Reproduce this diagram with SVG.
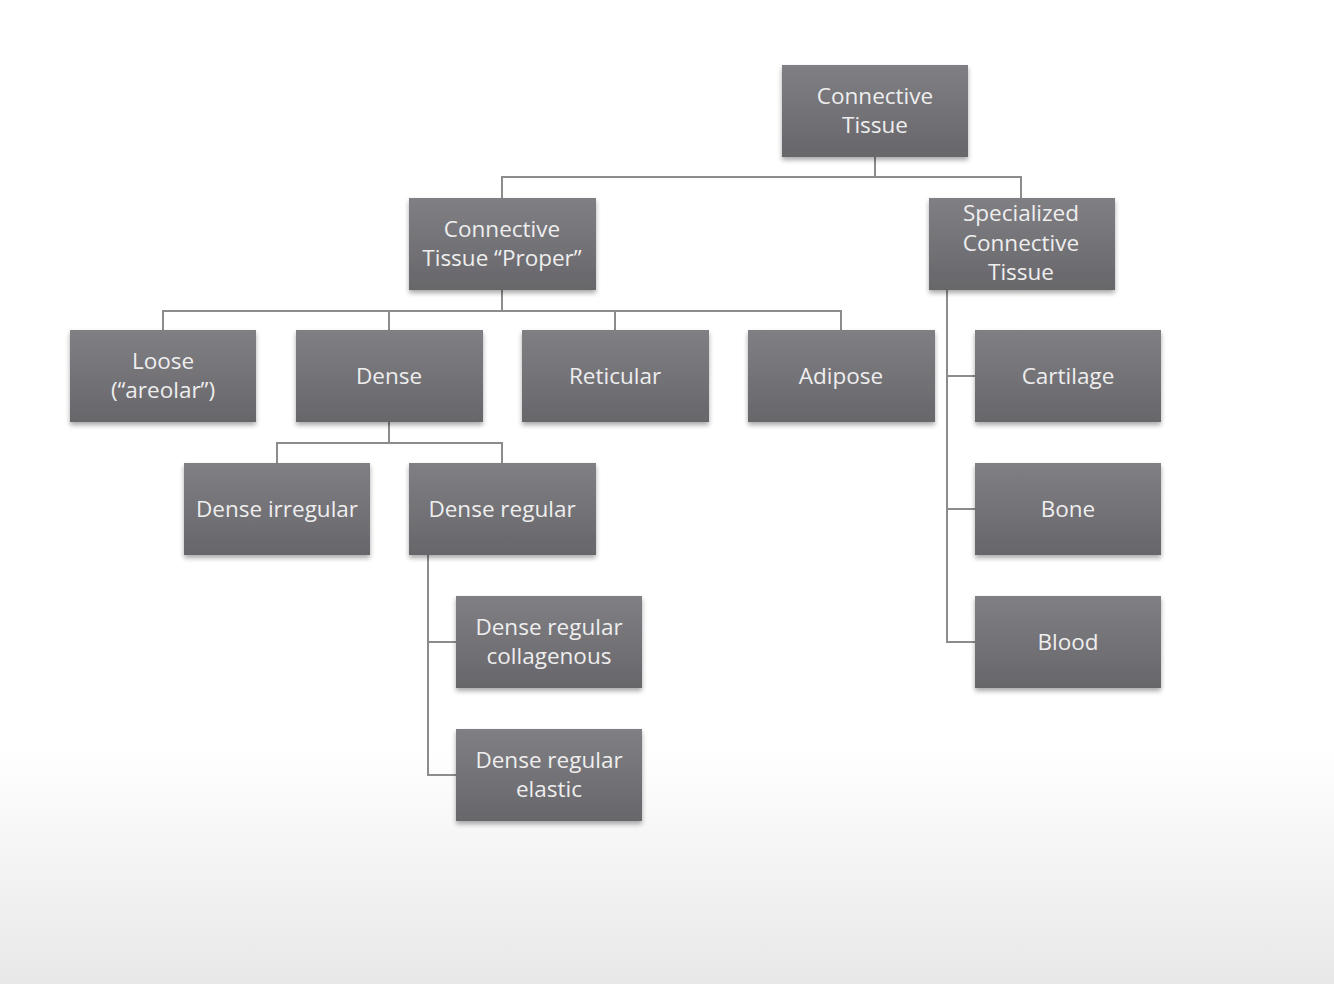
<svg xmlns="http://www.w3.org/2000/svg" width="1334" height="984" viewBox="0 0 1334 984">
<defs>
<linearGradient id="bg" x1="0" y1="0" x2="0" y2="1">
<stop offset="0" stop-color="#ffffff"/>
<stop offset="0.76" stop-color="#ffffff"/>
<stop offset="1" stop-color="#e8e8e8"/>
</linearGradient>
<linearGradient id="box" x1="0" y1="0" x2="0" y2="1">
<stop offset="0" stop-color="#807f84"/>
<stop offset="1" stop-color="#67666a"/>
</linearGradient>
<filter id="sh" x="-10%" y="-10%" width="120%" height="130%">
<feGaussianBlur in="SourceAlpha" stdDeviation="2.5"/>
<feOffset dx="0" dy="3" result="b"/>
<feComponentTransfer><feFuncA type="linear" slope="0.35"/></feComponentTransfer>
<feMerge><feMergeNode/><feMergeNode in="SourceGraphic"/></feMerge>
</filter>
</defs>
<style>
.n rect{fill:url(#box);filter:url(#sh)}
.n text{font-family:"Open Sans",Lato,sans-serif;font-size:22.5px;fill:#eeeeee;text-anchor:middle}
.c path{fill:none;stroke:#8c8c8c;stroke-width:2}
</style>
<rect x="0" y="0" width="1334" height="984" fill="url(#bg)"/>
<g class="c" id="connectors">
<path d="M875 157V177M502 198V177H1021V198"/>
<path d="M502 290V311M163 330V311H841V330M389 311V330M615 311V330"/>
<path d="M947 290V642H975M947 376H975M947 509H975"/>
<path d="M389 422V443M277 463V443H502V463"/>
<path d="M428 555V775H456M428 642H456"/>
</g>
<g class="n" id="connective-tissue"><rect x="782" y="65" width="186" height="92"/><text x="875" y="104">Connective</text><text x="875" y="133">Tissue</text></g>
<g class="n" id="ct-proper"><rect x="409" y="198" width="187" height="92"/><text x="502" y="237">Connective</text><text x="502" y="266">Tissue “Proper”</text></g>
<g class="n" id="specialized"><rect x="929" y="198" width="186" height="92"/><text x="1021" y="221">Specialized</text><text x="1021" y="251">Connective</text><text x="1021" y="280">Tissue</text></g>
<g class="n" id="loose"><rect x="70" y="330" width="186" height="92"/><text x="163" y="369">Loose</text><text x="163" y="398">(“areolar”)</text></g>
<g class="n" id="dense"><rect x="296" y="330" width="187" height="92"/><text x="389" y="384">Dense</text></g>
<g class="n" id="reticular"><rect x="522" y="330" width="187" height="92"/><text x="615" y="384">Reticular</text></g>
<g class="n" id="adipose"><rect x="748" y="330" width="187" height="92"/><text x="841" y="384">Adipose</text></g>
<g class="n" id="cartilage"><rect x="975" y="330" width="186" height="92"/><text x="1068" y="384">Cartilage</text></g>
<g class="n" id="dense-irregular"><rect x="184" y="463" width="186" height="92"/><text x="277" y="517">Dense irregular</text></g>
<g class="n" id="dense-regular"><rect x="409" y="463" width="187" height="92"/><text x="502" y="517">Dense regular</text></g>
<g class="n" id="bone"><rect x="975" y="463" width="186" height="92"/><text x="1068" y="517">Bone</text></g>
<g class="n" id="blood"><rect x="975" y="596" width="186" height="92"/><text x="1068" y="650">Blood</text></g>
<g class="n" id="dr-collagenous"><rect x="456" y="596" width="186" height="92"/><text x="549" y="635">Dense regular</text><text x="549" y="664">collagenous</text></g>
<g class="n" id="dr-elastic"><rect x="456" y="729" width="186" height="92"/><text x="549" y="768">Dense regular</text><text x="549" y="797">elastic</text></g>
</svg>
